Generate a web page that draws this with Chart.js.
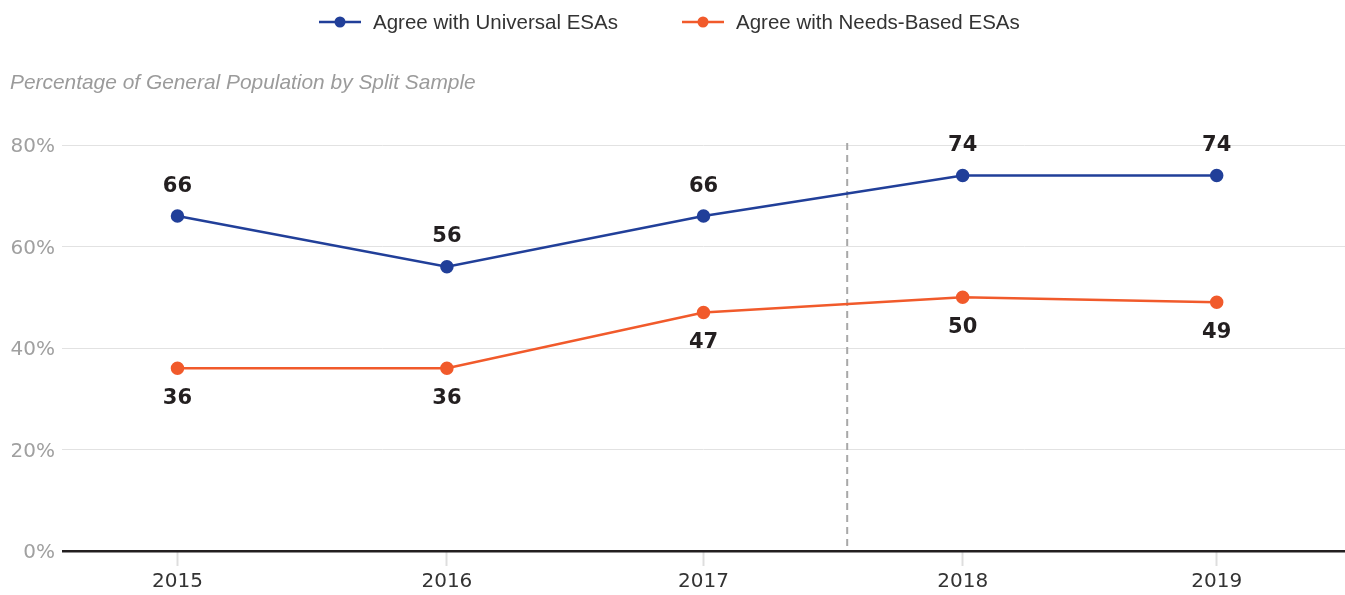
<!DOCTYPE html>
<html>
<head>
<meta charset="utf-8">
<style>
  html, body { margin: 0; padding: 0; background: #fff; }
  canvas { display: block; }
</style>
<script src="https://cdn.jsdelivr.net/npm/chart.js@4"></script>
</head>
<body>
<canvas id="chart" width="1345" height="595"></canvas>
<script>
// Survey years and the (fractional) survey date each wave was fielded
const years = ['2015', '2016', '2017', '2018', '2019'];
const surveyDates = [2014.95, 2016, 2017, 2018.01, 2019];

// Share agreeing, in percent
const universal = [66, 56, 66, 74, 74];
const needsBased = [36, 36, 47, 50, 49];

const seriesNames = ['Agree with Universal ESAs', 'Agree with Needs-Based ESAs'];
const yTicks = [0, 20, 40, 60, 80];
const dividerDate = 2017.56;
const subtitle = 'Percentage of General Population by Split Sample';

const BLUE = '#213f99';
const ORANGE = '#f15a2b';
const TEXT_FONT = '"Liberation Sans", Arial, sans-serif';
const NUM_FONT = '"DejaVu Sans", sans-serif';

const toPoints = vals => vals.map((v, i) => ({ x: surveyDates[i], y: v }));

const decorations = {
  id: 'decorations',
  beforeDatasetsDraw(chart) {
    const { ctx, chartArea, scales } = chart;
    const x = scales.x.getPixelForValue(dividerDate);
    ctx.save();
    ctx.strokeStyle = '#a8a8a8';
    ctx.lineWidth = 2;
    ctx.setLineDash([7, 5]);
    ctx.beginPath();
    ctx.moveTo(x, chartArea.top - 2);
    ctx.lineTo(x, chartArea.bottom);
    ctx.stroke();
    ctx.restore();
  },
  afterDatasetsDraw(chart) {
    const { ctx } = chart;
    ctx.save();
    // value labels: above the upper series, below the lower one
    ctx.font = 'bold 21px ' + NUM_FONT;
    ctx.fillStyle = '#231f20';
    ctx.textAlign = 'center';
    ctx.textBaseline = 'middle';
    chart.data.datasets.forEach((ds, di) => {
      const meta = chart.getDatasetMeta(di);
      meta.data.forEach((pt, i) => {
        const off = di === 0 ? -30 : 30;
        ctx.fillText(String(ds.data[i].y), pt.x, pt.y + off);
      });
    });

    // legend
    const colors = [BLUE, ORANGE];
    const legendX = [319, 682];
    ctx.font = '20.5px ' + TEXT_FONT;
    ctx.textAlign = 'left';
    seriesNames.forEach((name, i) => {
      const lx = legendX[i];
      const ly = 22;
      ctx.strokeStyle = colors[i];
      ctx.lineWidth = 2.5;
      ctx.beginPath();
      ctx.moveTo(lx, ly);
      ctx.lineTo(lx + 42, ly);
      ctx.stroke();
      ctx.fillStyle = colors[i];
      ctx.beginPath();
      ctx.arc(lx + 21, ly, 5.5, 0, Math.PI * 2);
      ctx.fill();
      ctx.fillStyle = '#333';
      ctx.fillText(name, lx + 54, ly + 1);
    });

    // subtitle
    ctx.font = 'italic 20.9px ' + TEXT_FONT;
    ctx.fillStyle = '#9b9b9b';
    ctx.fillText(subtitle, 10, 83);
    ctx.restore();
  }
};

new Chart(document.getElementById('chart'), {
  type: 'line',
  data: {
    datasets: [
      {
        label: seriesNames[0],
        data: toPoints(universal),
        borderColor: BLUE,
        backgroundColor: BLUE,
        borderWidth: 2.5,
        pointRadius: 5.5,
        pointHoverRadius: 5.5,
        tension: 0
      },
      {
        label: seriesNames[1],
        data: toPoints(needsBased),
        borderColor: ORANGE,
        backgroundColor: ORANGE,
        borderWidth: 2.5,
        pointRadius: 5.5,
        pointHoverRadius: 5.5,
        tension: 0
      }
    ]
  },
  plugins: [decorations],
  options: {
    responsive: false,
    animation: false,
    layout: {
      autoPadding: false,
      padding: { top: 145, right: 0, left: 0, bottom: 0 }
    },
    plugins: {
      legend: { display: false },
      tooltip: { enabled: false },
      title: { display: false }
    },
    scales: {
      x: {
        type: 'linear',
        min: 2014.5,
        max: 2019.5,
        afterBuildTicks(scale) {
          scale.ticks = surveyDates.map(v => ({ value: v }));
        },
        afterFit(scale) {
          scale.height = 44;
          scale.paddingLeft = 0;
          scale.paddingRight = 0;
        },
        border: { display: false },
        grid: {
          drawOnChartArea: false,
          drawTicks: true,
          tickLength: 15,
          tickColor: '#dedede',
          tickWidth: 2
        },
        ticks: {
          autoSkip: false,
          maxRotation: 0,
          padding: 4,
          color: '#333',
          font: { family: NUM_FONT, size: 20 },
          callback: (v, i) => years[i]
        }
      },
      y: {
        min: 0,
        max: 80,
        afterBuildTicks(scale) {
          scale.ticks = yTicks.map(v => ({ value: v }));
        },
        afterFit(scale) { scale.width = 62; },
        border: { display: false },
        grid: {
          drawTicks: false,
          color: ctx => ctx.tick && ctx.tick.value === 0 ? '#231f20' : '#e2e2e2',
          lineWidth: ctx => ctx.tick && ctx.tick.value === 0 ? 2.5 : 1
        },
        ticks: {
          padding: 7,
          labelOffset: 2,
          color: '#a0a0a0',
          font: { family: NUM_FONT, size: 20 },
          callback: v => v + '%'
        }
      }
    }
  }
});
</script>
</body>
</html>
